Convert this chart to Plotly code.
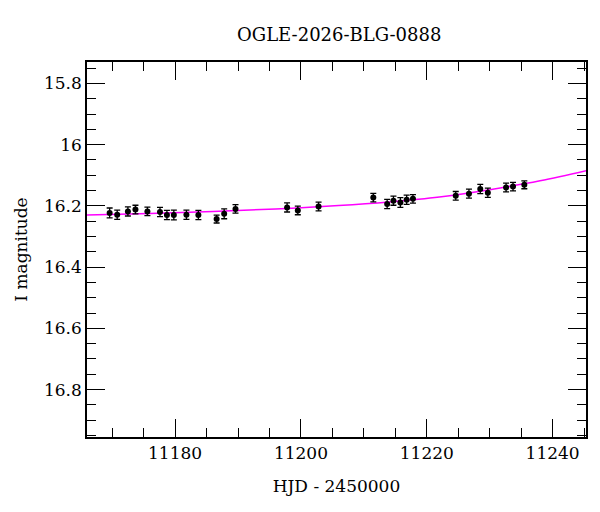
import plotly.graph_objects as go

# photometry
hjd = [11169.6, 11170.8, 11172.5, 11173.7, 11175.6, 11177.6, 11178.7, 11179.8,
       11181.8, 11183.7, 11186.6, 11187.8, 11189.6, 11197.8, 11199.5, 11202.8,
       11211.5, 11213.7, 11214.7, 11215.8, 11216.8, 11217.8, 11224.6, 11226.7,
       11228.5, 11229.7, 11232.6, 11233.7, 11235.5]
mag = [16.223, 16.229, 16.218, 16.212, 16.218, 16.220, 16.230, 16.230,
       16.229, 16.230, 16.243, 16.226, 16.210, 16.205, 16.215, 16.202,
       16.173, 16.194, 16.183, 16.189, 16.180, 16.177, 16.167, 16.160,
       16.145, 16.157, 16.140, 16.137, 16.131]
err = [0.016, 0.015, 0.015, 0.014, 0.014, 0.015, 0.015, 0.016,
       0.015, 0.015, 0.013, 0.016, 0.014, 0.015, 0.014, 0.014,
       0.014, 0.015, 0.015, 0.016, 0.015, 0.014, 0.014, 0.015,
       0.015, 0.015, 0.014, 0.014, 0.013]

# model curve samples
model_t = [11166, 11176, 11186, 11196, 11206, 11214, 11222, 11230, 11238, 11245.5]
model_m = [16.230, 16.225, 16.218, 16.210, 16.199, 16.187, 16.171, 16.147, 16.118, 16.084]

font = "DejaVu Serif"

fig = go.Figure()
fig.add_trace(go.Scatter(x=model_t, y=model_m, mode="lines",
                         line=dict(color="#ff00ff", width=1.5, shape="spline"),
                         hoverinfo="skip"))
fig.add_trace(go.Scatter(x=hjd, y=mag, mode="markers",
                         marker=dict(color="black", size=6),
                         error_y=dict(type="data", array=err, color="black",
                                      thickness=1.3, width=3)))

axis_common = dict(showgrid=False, zeroline=False, showline=True, linecolor="black",
                   linewidth=1.5, mirror="allticks", ticks="inside", tickcolor="black",
                   tickwidth=1, ticklen=18, tickfont=dict(family=font, size=17, color="black"))

fig.update_xaxes(range=[11166, 11245.3], dtick=20, tick0=11180, tickformat="d",
                 minor=dict(dtick=5, ticks="inside", ticklen=9, tickcolor="black", tickwidth=1),
                 title=dict(text="HJD - 2450000", font=dict(family=font, size=17, color="black"),
                            standoff=18),
                 **axis_common)
fig.update_yaxes(range=[16.955, 15.73], dtick=0.2, tick0=15.8,
                 minor=dict(dtick=0.05, ticks="inside", ticklen=9, tickcolor="black", tickwidth=1),
                 title=dict(text="I magnitude", font=dict(family=font, size=17, color="black"),
                            standoff=12),
                 **axis_common)

fig.update_layout(width=600, height=512, showlegend=False,
                  plot_bgcolor="white", paper_bgcolor="white",
                  margin=dict(l=79, r=22, t=54, b=83),
                  title=dict(text="OGLE-2026-BLG-0888", x=0.552, xanchor="center", y=0.947,
                             yanchor="middle", font=dict(family=font, size=18, color="black")))

fig.write_html("out.html")
